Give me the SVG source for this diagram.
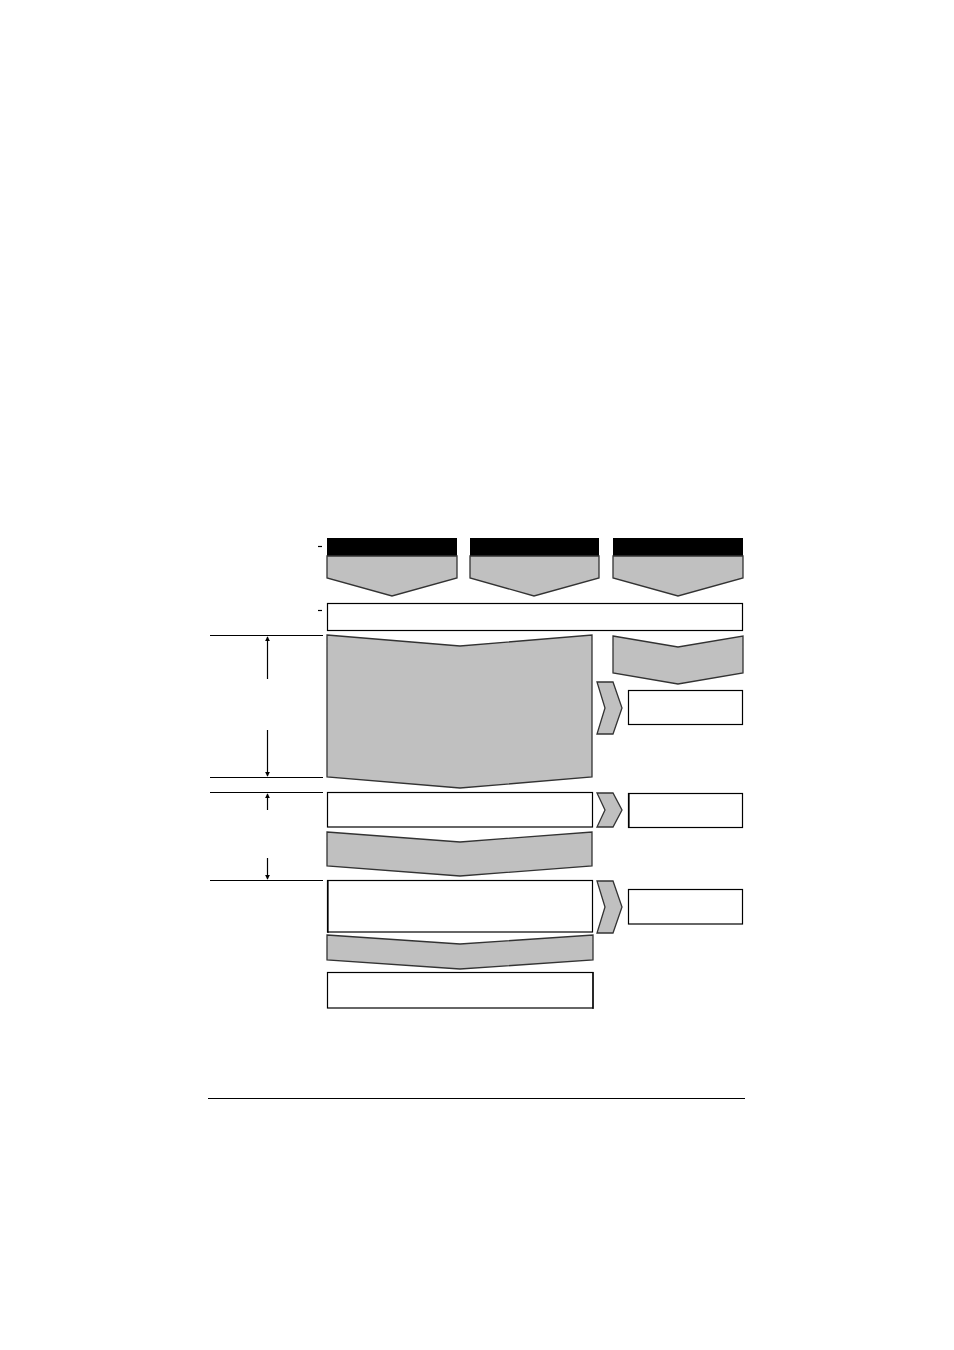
<svg xmlns="http://www.w3.org/2000/svg" width="954" height="1350" viewBox="0 0 954 1350">
<defs>
<style>
.g{fill:#c0c0c0;stroke:#333;stroke-width:1.3;stroke-linejoin:miter}
.w{fill:#fff;stroke:#000;stroke-width:1.2}
.bk{fill:#000}
.ln{stroke:#000;stroke-width:1.2;fill:none}
</style>
<marker id="ah" viewBox="0 0 6 6" refX="5" refY="3" markerWidth="4" markerHeight="4" orient="auto"><path d="M0,0L6,3L0,6z" fill="#000"/></marker>
</defs>
<rect width="954" height="1350" fill="#fff"/>
<g id="header1"><rect class="bk" x="327" y="538" width="130" height="18"/><path class="g" d="M327,556H457V578L392,596L327,578Z"/></g>
<g id="header2"><rect class="bk" x="470" y="538" width="129" height="18"/><path class="g" d="M470,556H599V578L534,596L470,578Z"/></g>
<g id="header3"><rect class="bk" x="613" y="538" width="130" height="18"/><path class="g" d="M613,556H743V578L678,596L613,578Z"/></g>
<g id="bar"><rect class="w" x="327.5" y="603.5" width="415" height="27"/><line class="ln" x1="327" y1="603.5" x2="743" y2="603.5" stroke-width="2"/></g>
<g id="big"><path class="g" d="M327,635L460,646L592,635V777L460,788L327,777Z"/></g>
<g id="rightchev"><path class="g" d="M613,636L678,647L743,636V673L678,684L613,673Z"/></g>
<g id="arr1"><path class="g" d="M597,682H613L622,708L613,734H597L605,708Z"/></g>
<g id="rbox1"><rect class="w" x="628.5" y="690.5" width="114" height="34"/></g>
<g id="box2"><rect class="w" x="327.5" y="792.5" width="265" height="34.5"/></g>
<g id="arr2"><path class="g" d="M597,793H613L622,810L613,827H597L605,810Z"/></g>
<g id="rbox2"><rect class="w" x="628.5" y="793.5" width="114" height="34"/><line class="ln" x1="629" y1="793" x2="629" y2="828" stroke-width="2"/></g>
<g id="band1"><path class="g" d="M327,832L460,842L592,832V866L460,876L327,866Z"/></g>
<g id="box3"><rect class="w" x="327.5" y="880.5" width="265" height="51.5"/><line class="ln" x1="328" y1="880" x2="328" y2="933" stroke-width="2"/></g>
<g id="arr3"><path class="g" d="M597,881H613L622,907L613,933H597L605,907Z"/></g>
<g id="rbox3"><rect class="w" x="628.5" y="889.5" width="114" height="34.5"/></g>
<g id="band2"><path class="g" d="M327,935L460,944L593,935V960L460,969L327,960Z"/></g>
<g id="box4"><rect class="w" x="327.5" y="972.5" width="265.5" height="35.5"/><line class="ln" x1="593" y1="972" x2="593" y2="1009" stroke-width="2"/></g>
<g id="connectors">
<line class="ln" x1="318" y1="546.5" x2="322" y2="546.5"/>
<line class="ln" x1="318" y1="610.5" x2="322" y2="610.5"/>
<line class="ln" x1="210" y1="635.5" x2="323" y2="635.5"/>
<line class="ln" x1="210" y1="777.5" x2="323" y2="777.5"/>
<line class="ln" x1="210" y1="792.5" x2="323" y2="792.5"/>
<line class="ln" x1="210" y1="880.5" x2="323" y2="880.5"/>
<line class="ln" x1="267.5" y1="679" x2="267.5" y2="637" marker-end="url(#ah)"/>
<line class="ln" x1="267.5" y1="730" x2="267.5" y2="776" marker-end="url(#ah)" stroke-width="1.6"/>
<line class="ln" x1="267.5" y1="810" x2="267.5" y2="794" marker-end="url(#ah)" stroke-width="1.6"/>
<line class="ln" x1="267.5" y1="858" x2="267.5" y2="879" marker-end="url(#ah)"/>
<line class="ln" x1="208" y1="1098.5" x2="745" y2="1098.5"/>
</g>
</svg>
